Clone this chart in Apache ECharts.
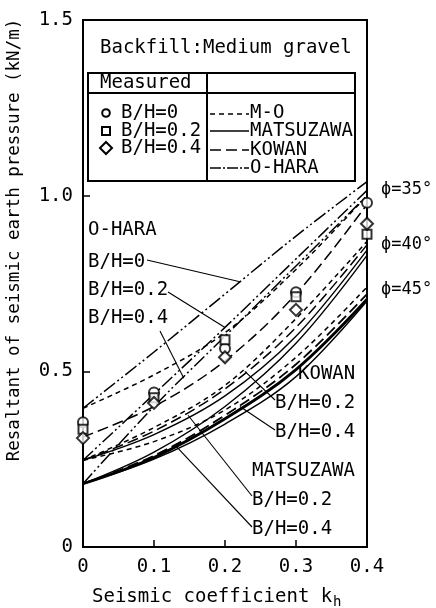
<!DOCTYPE html>
<html>
<head>
<meta charset="utf-8">
<script src="https://cdn.jsdelivr.net/npm/echarts@6/dist/echarts.min.js"></script>
<style>html,body{margin:0;padding:0;background:#fff}#c{width:436px;height:608px}</style>
</head>
<body>
<div id="c"></div>
<script>
// ---------- data ----------
var kh = [0, 0.1, 0.2, 0.3, 0.4];
var xTicks = ['0', '0.1', '0.2', '0.3', '0.4'];
var yTicks = ['0', '0.5', '1.0', '1.5'];

// measured resultant (kN/m)
var measBH0  = [0.355, 0.44, 0.565, 0.725, 0.98];
var measBH02 = [0.335, 0.425, 0.59, 0.712, 0.89];
var measBH04 = [0.31, 0.41, 0.54, 0.675, 0.92];

// O-HARA (dash-dot-dot)
var oharaBH0  = [0.395, 0.555, 0.72, 0.885, 1.04];
var oharaBH02 = [0.247, 0.435, 0.625, 0.82, 1.015];
var oharaBH04 = [0.18, 0.40, 0.60, 0.80, 1.0];
// phi = 35 deg
var mo35     = [0.395, 0.49, 0.61, 0.79, 1.0];
var kowan35  = [0.313, 0.40, 0.53, 0.72, 0.975];
// phi = 40 deg
var mo40     = [0.247, 0.34, 0.46, 0.65, 0.87];
var kowan40  = [0.247, 0.33, 0.45, 0.625, 0.86];
var matsu40a = [0.247, 0.32, 0.43, 0.60, 0.845];
var matsu40b = [0.18, 0.27, 0.40, 0.58, 0.83];
// phi = 45 deg
var mo45     = [0.247, 0.30, 0.39, 0.54, 0.74];
var kowan45  = [0.18, 0.26, 0.375, 0.52, 0.72];
var matsu45a = [0.18, 0.255, 0.365, 0.505, 0.705];
var matsu45b = [0.18, 0.25, 0.35, 0.485, 0.70];

// ---------- styles ----------
var FONT = '"DejaVu Sans Mono", "Liberation Mono", monospace';
var DASH_MO = [5, 4];
var DASH_KOWAN = [11, 5];
var DASH_OHARA = [14, 3, 2, 3, 2, 3];

function pts(ys) { return kh.map(function (x, i) { return [x, ys[i]]; }); }
function curve(name, ys, dash, w) {
  return {
    name: name, type: 'line', data: pts(ys), smooth: 0.35, symbol: 'none', silent: true,
    lineStyle: { color: '#000', width: w || 1.5, type: dash || 'solid' }, z: 2
  };
}
function meas(name, ys, sym, size) {
  return {
    name: name, type: 'scatter', data: pts(ys), symbol: sym, symbolSize: size, clip: false,
    itemStyle: { color: '#fff', borderColor: '#000', borderWidth: 2 }, z: 5
  };
}

var chart = echarts.init(document.getElementById('c'), null, { renderer: 'canvas' });

var series = [
  curve('O-HARA B/H=0', oharaBH0, DASH_OHARA, 1.5),
  curve('O-HARA B/H=0.2', oharaBH02, DASH_OHARA, 1.5),
  curve('O-HARA B/H=0.4', oharaBH04, DASH_OHARA, 1.5),
  curve('M-O 35', mo35, DASH_MO, 1.5),
  curve('KOWAN 35', kowan35, DASH_KOWAN, 1.5),
  curve('M-O 40', mo40, DASH_MO, 1.5),
  curve('KOWAN 40', kowan40, DASH_KOWAN, 1.5),
  curve('MATSUZAWA 40 0.2', matsu40a, 'solid', 1.4),
  curve('MATSUZAWA 40 0.4', matsu40b, 'solid', 1.4),
  curve('M-O 45', mo45, DASH_MO, 1.5),
  curve('KOWAN 45', kowan45, DASH_KOWAN, 1.8),
  curve('MATSUZAWA 45 0.2', matsu45b, 'solid', 1.4),
  curve('MATSUZAWA 45 0.4', matsu45a, 'solid', 2.8),
  meas('B/H=0', measBH0, 'circle', 10),
  meas('B/H=0.2', measBH02, 'rect', 9),
  meas('B/H=0.4', measBH04, 'diamond', 12)
];

chart.setOption({
  animation: false,
  backgroundColor: '#fff',
  grid: { left: 83, right: 69, top: 20, bottom: 61, show: true, borderColor: '#000', borderWidth: 2, backgroundColor: 'transparent' },
  xAxis: {
    type: 'value', min: 0, max: 0.4, interval: 0.1,
    axisLine: { show: true, lineStyle: { color: '#000', width: 2 } },
    axisTick: { show: true, inside: true, length: 7, lineStyle: { color: '#000', width: 1.5 } },
    splitLine: { show: false },
    axisLabel: { color: '#000', fontFamily: FONT, fontSize: 19, margin: 11,
      formatter: function (v) { return xTicks[Math.round(v * 10)]; } }
  },
  yAxis: {
    type: 'value', min: 0, max: 1.5, interval: 0.5,
    axisLine: { show: true, lineStyle: { color: '#000', width: 2 } },
    axisTick: { show: true, inside: true, length: 7, lineStyle: { color: '#000', width: 1.5 } },
    splitLine: { show: false },
    axisLabel: { color: '#000', fontFamily: FONT, fontSize: 19, margin: 10,
      formatter: function (v) { return yTicks[Math.round(v * 2)]; } }
  },
  series: series
});

function P(x, y) { return chart.convertToPixel({ gridIndex: 0 }, [x, y]); }
function txt(s, x, y, size, align, extra) {
  var o = { type: 'text', x: x, y: y, z: 10, silent: true,
    style: { text: s, fill: '#000', font: size + 'px ' + FONT, textAlign: align || 'left', textVerticalAlign: 'middle' } };
  if (extra) for (var k in extra) o[k] = extra[k];
  return o;
}
function seg(x1, y1, x2, y2, w, dash) {
  return { type: 'line', z: 10, silent: true, shape: { x1: x1, y1: y1, x2: x2, y2: y2 },
    style: { stroke: '#000', lineWidth: w || 1, lineDash: dash || null } };
}
function leader(x1, y1, dx, dy) {
  var p = P(dx, dy);
  return seg(x1, y1, p[0], p[1], 1.1);
}

var g = [];
// title
g.push(txt('Backfill:Medium gravel', 100, 48, 19));
// legend box
g.push({ type: 'rect', z: 9, silent: true, shape: { x: 88, y: 73, width: 267, height: 108 },
  style: { fill: '#fff', stroke: '#000', lineWidth: 2 } });
g.push(seg(88, 93, 355, 93, 2));
g.push(seg(207, 73, 207, 181, 2));
g.push(txt('Measured', 100, 83, 19));
var rows = [113, 131, 148];
g.push({ type: 'circle', z: 10, silent: true, shape: { cx: 106, cy: rows[0], r: 3.8 }, style: { fill: '#fff', stroke: '#000', lineWidth: 2 } });
g.push({ type: 'rect', z: 10, silent: true, shape: { x: 102, y: rows[1] - 4, width: 8, height: 8 }, style: { fill: '#fff', stroke: '#000', lineWidth: 2 } });
g.push({ type: 'polygon', z: 10, silent: true, shape: { points: [[106, rows[2] - 6], [112, rows[2]], [106, rows[2] + 6], [100, rows[2]]] }, style: { fill: '#fff', stroke: '#000', lineWidth: 2 } });
g.push(txt('B/H=0', 121, rows[0], 19));
g.push(txt('B/H=0.2', 121, rows[1], 19));
g.push(txt('B/H=0.4', 121, rows[2], 19));
var rrows = [113, 131, 150, 168];
g.push(seg(210, rrows[0] + 1, 249, rrows[0] + 1, 1.5, DASH_MO));
g.push(seg(210, rrows[1], 249, rrows[1], 1.5));
g.push(seg(210, rrows[2], 249, rrows[2], 1.5, DASH_KOWAN));
g.push(seg(210, rrows[3], 249, rrows[3], 1.5, [11, 2, 2, 2]));
g.push(txt('M-O', 250, rrows[0], 19));
g.push(txt('MATSUZAWA', 250, rrows[1], 19));
g.push(txt('KOWAN', 250, rrows[2], 19));
g.push(txt('O-HARA', 250, rrows[3], 19));

// phi labels
g.push(txt('\u03d5=35\u00b0', 381, 190, 17));
g.push(txt('\u03d5=40\u00b0', 381, 245, 17));
g.push(txt('\u03d5=45\u00b0', 381, 290, 17));

// O-HARA annotations
g.push(txt('O-HARA', 88, 230, 19));
g.push(txt('B/H=0', 88, 262, 19));
g.push(txt('B/H=0.2', 88, 290, 19));
g.push(txt('B/H=0.4', 88, 318, 19));
g.push(leader(147, 260, 0.221, 0.755));
g.push(leader(168, 292, 0.2, 0.625));
g.push(leader(160, 331, 0.142, 0.48));

// KOWAN annotations
g.push(txt('KOWAN', 298, 374, 19));
g.push(txt('B/H=0.2', 275, 403, 19));
g.push(txt('B/H=0.4', 275, 432, 19));
g.push(leader(275, 400, 0.228, 0.50));
g.push(leader(275, 430, 0.221, 0.40));

// MATSUZAWA annotations
g.push(txt('MATSUZAWA', 252, 471, 19));
g.push(txt('B/H=0.2', 252, 500, 19));
g.push(txt('B/H=0.4', 252, 529, 19));
g.push(leader(252, 496, 0.148, 0.375));
g.push(leader(252, 527, 0.132, 0.285));

// axis titles
g.push(txt('Seismic coefficient k', 92, 597, 19));
g.push(txt('h', 333, 602, 14));
g.push(txt('Resaltant of seismic earth pressure (kN/m)', 14, 240, 17.5, 'center', { rotation: Math.PI / 2 }));

chart.setOption({ graphic: { elements: g } });
</script>
</body>
</html>
